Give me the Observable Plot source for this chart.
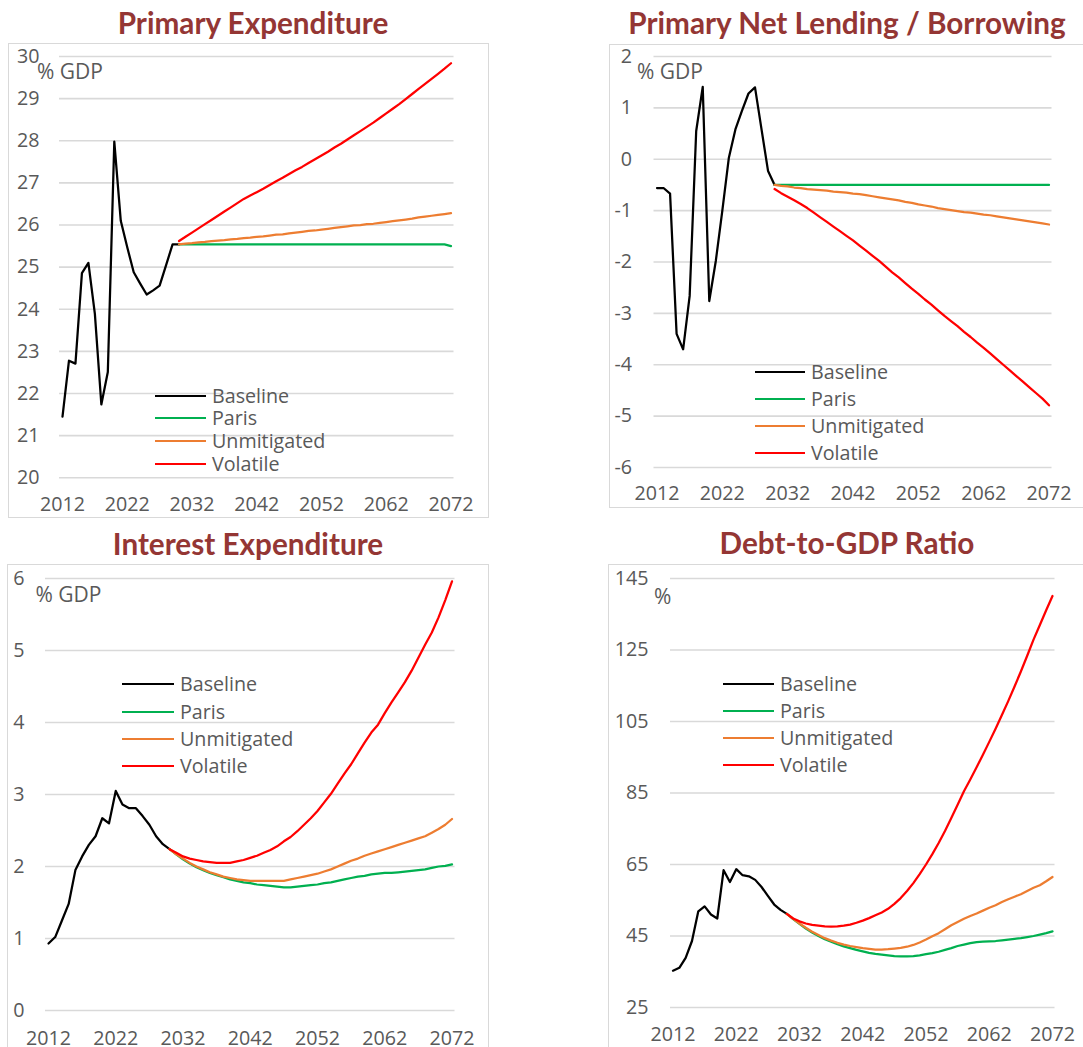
<!DOCTYPE html>
<html><head><meta charset="utf-8">
<script src="https://cdn.jsdelivr.net/npm/d3@7"></script>
<script src="https://cdn.jsdelivr.net/npm/@observablehq/plot@0.6"></script>
<style>
html,body{margin:0;padding:0;background:#fff;}
body{position:relative;width:1083px;height:1047px;overflow:hidden;font-family:"Open Sans",sans-serif;}
.title{position:absolute;font-family:Lato,sans-serif;font-weight:700;color:#943634;font-size:29.7px;white-space:nowrap;line-height:1;transform:translate(-50%,-50%);}
.box{position:absolute;border:1.5px solid #d9d9d9;box-sizing:border-box;}
.plot{position:absolute;}
.txt{position:absolute;font-family:"Open Sans",sans-serif;font-size:19.7px;color:#595959;white-space:nowrap;line-height:1;}
.unit{font-size:21px;}
.lline{position:absolute;height:2.25px;}
</style></head><body>
<script>
// ---------- shared ----------
const seriesNames = ["Baseline", "Paris", "Unmitigated", "Volatile"];
const seriesColors = ["#000000", "#00B050", "#ED7D31", "#FF0000"];
const xTicks = [2012, 2022, 2032, 2042, 2052, 2062, 2072];
const histStart = 2012;   // baseline series years 2012..2030
const projStart = 2030;   // scenario series years 2030..2072

// ---------- Primary Expenditure (% GDP) ----------
const peTitle = "Primary Expenditure";
const peUnit = "% GDP";
const peYTicks = [20, 21, 22, 23, 24, 25, 26, 27, 28, 29, 30];
const peBaseline = [21.45, 22.78, 22.71, 24.86, 25.10, 23.89, 21.74, 22.51, 27.98, 26.10, 25.47, 24.88, 24.61, 24.35, 24.45, 24.56, 25.05, 25.54, 25.54];
const peParis = [25.54, 25.54, 25.54, 25.54, 25.54, 25.54, 25.54, 25.54, 25.54, 25.54,
  25.54, 25.54, 25.54, 25.54, 25.54, 25.54, 25.54, 25.54, 25.54, 25.54,
  25.54, 25.54, 25.54, 25.54, 25.54, 25.54, 25.54, 25.54, 25.54, 25.54,
  25.54, 25.54, 25.54, 25.54, 25.54, 25.54, 25.54, 25.54, 25.54, 25.54,
  25.54, 25.54, 25.50];
const peUnmitigated = [25.54, 25.56, 25.57, 25.59, 25.60, 25.62, 25.63, 25.64, 25.66, 25.67,
  25.69, 25.70, 25.72, 25.73, 25.75, 25.77, 25.78, 25.80, 25.82, 25.84,
  25.86, 25.87, 25.89, 25.91, 25.93, 25.95, 25.97, 25.99, 26.00, 26.02,
  26.03, 26.05, 26.07, 26.09, 26.11, 26.13, 26.15, 26.18, 26.20, 26.22,
  26.24, 26.26, 26.28];
const peVolatile = [25.62, 25.72, 25.82, 25.92, 26.02, 26.12, 26.22, 26.32, 26.42, 26.52,
  26.62, 26.70, 26.78, 26.86, 26.95, 27.04, 27.12, 27.21, 27.30, 27.38,
  27.47, 27.56, 27.65, 27.74, 27.84, 27.93, 28.03, 28.13, 28.23, 28.33,
  28.43, 28.54, 28.65, 28.76, 28.87, 28.99, 29.11, 29.23, 29.35, 29.47,
  29.59, 29.71, 29.84];

// ---------- Primary Net Lending / Borrowing (% GDP) ----------
const nlTitle = "Primary Net Lending / Borrowing";
const nlUnit = "% GDP";
const nlYTicks = [-6, -5, -4, -3, -2, -1, 0, 1, 2];
const nlBaseline = [-0.56, -0.56, -0.67, -3.40, -3.70, -2.66, 0.55, 1.41, -2.76, -1.98, -1.00, 0.03, 0.58, 0.94, 1.28, 1.40, 0.58, -0.23, -0.50];
const nlParis = [-0.50, -0.50, -0.50, -0.50, -0.50, -0.50, -0.50, -0.50, -0.50, -0.50,
  -0.50, -0.50, -0.50, -0.50, -0.50, -0.50, -0.50, -0.50, -0.50, -0.50,
  -0.50, -0.50, -0.50, -0.50, -0.50, -0.50, -0.50, -0.50, -0.50, -0.50,
  -0.50, -0.50, -0.50, -0.50, -0.50, -0.50, -0.50, -0.50, -0.50, -0.50,
  -0.50, -0.50, -0.50];
const nlUnmitigated = [-0.50, -0.52, -0.53, -0.55, -0.56, -0.58, -0.59, -0.60, -0.61, -0.63,
  -0.64, -0.65, -0.67, -0.68, -0.70, -0.72, -0.74, -0.76, -0.78, -0.80,
  -0.83, -0.85, -0.88, -0.90, -0.92, -0.95, -0.97, -0.99, -1.01, -1.03,
  -1.04, -1.06, -1.08, -1.09, -1.11, -1.13, -1.15, -1.17, -1.19, -1.21,
  -1.23, -1.25, -1.27];
const nlVolatile = [-0.58, -0.66, -0.73, -0.80, -0.87, -0.95, -1.04, -1.13, -1.22, -1.31,
  -1.40, -1.49, -1.58, -1.68, -1.78, -1.88, -1.98, -2.09, -2.20, -2.30,
  -2.41, -2.52, -2.62, -2.73, -2.83, -2.94, -3.05, -3.15, -3.25, -3.36,
  -3.46, -3.57, -3.67, -3.78, -3.89, -4.00, -4.11, -4.22, -4.33, -4.44,
  -4.55, -4.66, -4.79];

// ---------- Interest Expenditure (% GDP) ----------
const ieTitle = "Interest Expenditure";
const ieUnit = "% GDP";
const ieYTicks = [0, 1, 2, 3, 4, 5, 6];
const ieBaseline = [0.93, 1.02, 1.25, 1.48, 1.95, 2.14, 2.30, 2.42, 2.67, 2.60, 3.05, 2.86, 2.81, 2.81, 2.70, 2.58, 2.42, 2.31, 2.24];
const ieParis = [2.24, 2.17, 2.10, 2.04, 1.99, 1.95, 1.91, 1.88, 1.85, 1.82,
  1.80, 1.78, 1.77, 1.75, 1.74, 1.73, 1.72, 1.71, 1.71, 1.72,
  1.73, 1.74, 1.75, 1.77, 1.78, 1.80, 1.82, 1.84, 1.86, 1.87,
  1.89, 1.90, 1.91, 1.91, 1.92, 1.93, 1.94, 1.95, 1.96, 1.98,
  2.00, 2.01, 2.03];
const ieUnmitigated = [2.24, 2.17, 2.11, 2.05, 2.00, 1.96, 1.92, 1.89, 1.86, 1.84,
  1.82, 1.81, 1.80, 1.80, 1.80, 1.80, 1.80, 1.80, 1.82, 1.84,
  1.86, 1.88, 1.90, 1.93, 1.96, 2.00, 2.04, 2.08, 2.11, 2.15,
  2.18, 2.21, 2.24, 2.27, 2.30, 2.33, 2.36, 2.39, 2.42, 2.47,
  2.52, 2.58, 2.66];
const ieVolatile = [2.24, 2.19, 2.14, 2.11, 2.09, 2.07, 2.06, 2.05, 2.05, 2.05,
  2.07, 2.09, 2.12, 2.15, 2.19, 2.23, 2.28, 2.35, 2.41, 2.49,
  2.58, 2.67, 2.77, 2.89, 3.01, 3.15, 3.29, 3.42, 3.57, 3.72,
  3.86, 3.97, 4.13, 4.28, 4.42, 4.56, 4.72, 4.90, 5.08, 5.25,
  5.46, 5.70, 5.96];

// ---------- Debt-to-GDP Ratio (%) ----------
const dgTitle = "Debt-to-GDP Ratio";
const dgUnit = "%";
const dgYTicks = [25, 45, 65, 85, 105, 125, 145];
const dgBaseline = [35.3, 36.1, 38.9, 43.6, 51.9, 53.3, 51.0, 49.9, 63.4, 60.1, 63.7, 62.0, 61.7, 60.7, 58.7, 56.2, 53.8, 52.3, 51.2];
const dgParis = [51.2, 49.7, 48.4, 47.1, 46.0, 45.0, 44.1, 43.4, 42.7, 42.1,
  41.6, 41.1, 40.7, 40.3, 40.0, 39.8, 39.6, 39.4, 39.3, 39.3,
  39.4, 39.6, 39.9, 40.2, 40.6, 41.1, 41.6, 42.2, 42.6, 43.0,
  43.3, 43.4, 43.5, 43.6, 43.8, 44.0, 44.2, 44.4, 44.7, 45.0,
  45.4, 45.8, 46.3];
const dgUnmitigated = [51.2, 49.8, 48.5, 47.3, 46.2, 45.3, 44.4, 43.7, 43.1, 42.6,
  42.2, 41.9, 41.6, 41.4, 41.2, 41.2, 41.3, 41.5, 41.7, 42.0,
  42.5, 43.2, 44.0, 44.9, 45.8, 46.9, 48.0, 48.9, 49.8, 50.6,
  51.3, 52.1, 52.9, 53.6, 54.5, 55.3, 56.0, 56.7, 57.6, 58.5,
  59.2, 60.3, 61.5];
const dgVolatile = [51.2, 49.9, 49.1, 48.5, 48.1, 47.9, 47.7, 47.6, 47.7, 47.9,
  48.2, 48.7, 49.3, 50.0, 50.8, 51.6, 52.6, 54.0, 55.6, 57.6,
  59.8, 62.3, 65.0, 67.9, 71.0, 74.4, 78.0, 81.7, 85.5, 88.8,
  92.2, 95.7, 99.3, 103.0, 106.8, 110.7, 114.8, 119.0, 123.4, 127.9,
  132.0, 136.1, 140.1];

// ---------- layout (positions only) ----------
const panels = [
  {title: peTitle, unit: peUnit, yTicks: peYTicks, series: [peBaseline, peParis, peUnmitigated, peVolatile],
   box: [8, 43, 481, 475], svg: [8, 43, 481, 475], m: [13, 35.5, 40.7, 51], inset: 3, xPad: 19, yPad: 20,
   titlePos: [253, 23], unitPos: [37, 72], legend: {x1: 155, x2: 206, tx: 212, rows: [396, 418, 441, 464]}},
  {title: nlTitle, unit: nlUnit, yTicks: nlYTicks, series: [nlBaseline, nlParis, nlUnmitigated, nlVolatile],
   box: [609, 43.5, 490, 464], svg: [609, 43, 474, 464], m: [13, 31.5, 40, 44.5], inset: 3, xPad: 18, yPad: 22,
   titlePos: [847, 23], unitPos: [637, 72], legend: {x1: 755, x2: 805, tx: 811, rows: [372, 399, 426, 453]}},
  {title: ieTitle, unit: ieUnit, yTicks: ieYTicks, series: [ieBaseline, ieParis, ieUnmitigated, ieVolatile],
   box: [7, 564, 482, 520], svg: [7, 564, 482, 483], m: [14, 34.5, 37, 38], inset: 3, xPad: 20, yPad: 21,
   titlePos: [248, 543.5], unitPos: [35.5, 595], legend: {x1: 122, x2: 174, tx: 180, rows: [684, 712, 739, 766]}},
  {title: dgTitle, unit: dgUnit, yTicks: dgYTicks, series: [dgBaseline, dgParis, dgUnmitigated, dgVolatile],
   box: [607.5, 564, 500, 520], svg: [607.5, 564, 475.5, 483], m: [14, 29, 40, 62], inset: 2.5, xPad: 19, yPad: 22,
   titlePos: [847, 543], unitPos: [654, 597], legend: {x1: 722.5, x2: 774, tx: 780, rows: [684, 711, 738, 765]}}
];

function el(cls, css, text) {
  const d = document.createElement("div");
  d.className = cls;
  Object.assign(d.style, css);
  if (text != null) d.textContent = text;
  document.body.appendChild(d);
  return d;
}

for (const p of panels) {
  el("box", {left: p.box[0] + "px", top: p.box[1] + "px", width: p.box[2] + "px", height: p.box[3] + "px"});
  const rows = [];
  p.series.forEach((vals, si) => {
    const start = si === 0 ? histStart : projStart;
    vals.forEach((v, i) => rows.push({year: start + i, value: v, series: seriesNames[si]}));
  });
  const chart = Plot.plot({
    width: p.svg[2], height: p.svg[3],
    marginTop: p.m[0], marginRight: p.m[1], marginBottom: p.m[2], marginLeft: p.m[3],
    style: {fontFamily: "'Open Sans', sans-serif", fontSize: "19.7px", color: "#595959", background: "transparent", overflow: "visible"},
    x: {domain: [2012, 2072], inset: p.inset, ticks: xTicks, tickFormat: d => String(d), tickSize: 0, tickPadding: p.xPad, label: null},
    y: {domain: [p.yTicks[0], p.yTicks[p.yTicks.length - 1]], ticks: p.yTicks, tickFormat: d => String(d), tickSize: 0, tickPadding: p.yPad, label: null},
    color: {domain: seriesNames, range: seriesColors},
    marks: [
      Plot.ruleY(p.yTicks, {stroke: "#d9d9d9", strokeWidth: 1.6}),
      Plot.lineY(rows, {x: "year", y: "value", z: "series", stroke: "series", strokeWidth: 2.25})
    ]
  });
  const holder = el("plot", {left: p.svg[0] + "px", top: p.svg[1] + "px"});
  holder.appendChild(chart);
  el("title", {left: p.titlePos[0] + "px", top: p.titlePos[1] + "px"}, p.title);
  el("txt unit", {left: p.unitPos[0] + "px", top: (p.unitPos[1] - 11) + "px"}, p.unit);
  seriesNames.forEach((name, i) => {
    const y = p.legend.rows[i];
    el("lline", {left: p.legend.x1 + "px", top: (y - 1.1) + "px", width: (p.legend.x2 - p.legend.x1) + "px", background: seriesColors[i]});
    el("txt", {left: p.legend.tx + "px", top: (y - 10.5) + "px"}, name);
  });
}
</script>
</body></html>
